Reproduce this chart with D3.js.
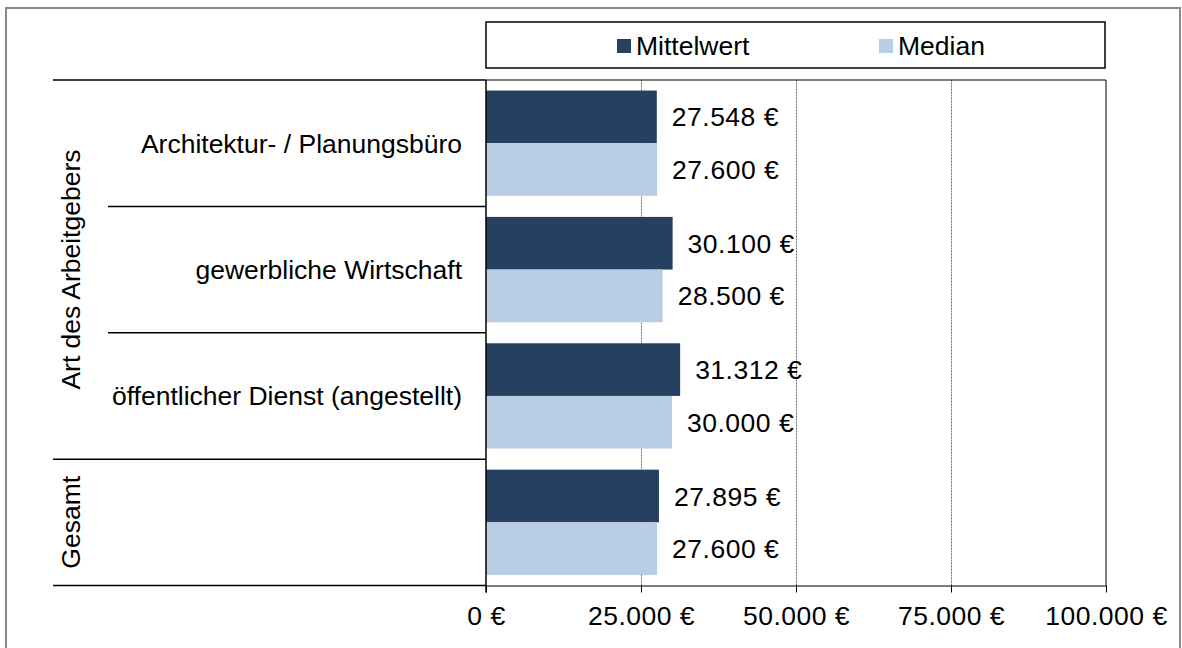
<!DOCTYPE html>
<html lang="de">
<head>
<meta charset="utf-8">
<script src="https://cdn.jsdelivr.net/npm/d3@7/dist/d3.min.js"></script>
<style>
  html, body { margin: 0; padding: 0; background: #fff; }
  svg { display: block; font-family: "Liberation Sans", Arial, sans-serif; }
</style>
</head>
<body>
<svg id="chart" width="1182" height="648"></svg>
<script>
// Jahresgehalt nach Art des Arbeitgebers
const categories = ["Architektur- / Planungsbüro", "gewerbliche Wirtschaft", "öffentlicher Dienst (angestellt)", "Gesamt"];
const categoryLabels = ["Architektur- / Planungsbüro", "gewerbliche Wirtschaft", "öffentlicher Dienst (angestellt)", ""];
const groupLabels = ["Art des Arbeitgebers", "Gesamt"];
const groupOf = [0, 0, 0, 1];
const seriesNames = ["Mittelwert", "Median"];
const mittelwert = [27548, 30100, 31312, 27895];
const median = [27600, 28500, 30000, 27600];
const xTicks = [0, 25000, 50000, 75000, 100000];

const colors = { Mittelwert: "#254061", Median: "#B9CDE5" };
const FONT = 26.5;
const NUM_SPACING = 0.5;

const svg = d3.select("#chart");

const plotLeft = 486, plotRight = 1106, plotTop = 80, plotBottom = 585.5;

const de = d3.formatLocale({ decimal: ",", thousands: ".", grouping: [3], currency: ["", " €"] });
const euro = v => de.format(",.0f")(v) + " €";

const x = d3.scaleLinear().domain([0, 100000]).range([plotLeft, plotRight]);
const y = d3.scaleBand().domain(categories).range([plotTop, plotBottom]);
const ys = d3.scaleBand().domain(seriesNames).range([0, y.bandwidth()]).paddingOuter(0.2).paddingInner(0);

// outer frame
svg.append("rect")
  .attr("x", 6).attr("y", 8).attr("width", 1174).attr("height", 660)
  .attr("fill", "none").attr("stroke", "#8a8a8a").attr("stroke-width", 2);

// dashed grid lines
svg.append("g")
  .attr("transform", `translate(0,${plotBottom})`)
  .call(d3.axisBottom(x).tickValues(xTicks.slice(1, -1)).tickSize(-(plotBottom - plotTop)).tickFormat(""))
  .call(g => g.select(".domain").remove())
  .call(g => g.selectAll(".tick line").attr("stroke", "#6f6f6f").attr("stroke-width", 1).attr("stroke-dasharray", "2,1"));

// plot border: top and right
svg.append("line").attr("x1", plotLeft).attr("x2", plotRight).attr("y1", plotTop).attr("y2", plotTop)
  .attr("stroke", "#000").attr("stroke-width", 1);
svg.append("line").attr("x1", plotRight).attr("x2", plotRight).attr("y1", plotTop).attr("y2", plotBottom)
  .attr("stroke", "#000").attr("stroke-width", 1);

// bars with value labels
const rows = categories.map((c, i) => ({ c, values: [
  { s: "Mittelwert", v: mittelwert[i] },
  { s: "Median", v: median[i] }
]}));

const barG = svg.append("g");
rows.forEach(r => {
  r.values.forEach(d => {
    const y0 = y(r.c) + ys(d.s);
    barG.append("rect")
      .attr("x", x(0)).attr("y", y0)
      .attr("width", x(d.v) - x(0)).attr("height", ys.bandwidth())
      .attr("fill", colors[d.s]);
    barG.append("text")
      .attr("x", x(d.v) + 15).attr("y", y0 + ys.bandwidth() / 2 + FONT * 0.36)
      .attr("font-size", FONT).attr("letter-spacing", NUM_SPACING).attr("fill", "#000")
      .text(euro(d.v));
  });
});

// value axis
const xAxis = svg.append("g")
  .attr("transform", `translate(0,${plotBottom})`)
  .call(d3.axisBottom(x).tickValues(xTicks).tickSize(7).tickSizeOuter(0).tickPadding(14).tickFormat(euro));
xAxis.select(".domain").attr("stroke", "#000").attr("stroke-width", 1.2);
xAxis.selectAll(".tick line").attr("stroke", "#000");
xAxis.selectAll(".tick text").attr("font-size", FONT).attr("fill", "#000")
  .attr("letter-spacing", NUM_SPACING)
  .attr("font-family", "'Liberation Sans', Arial, sans-serif");

// category axis line
svg.append("line").attr("x1", plotLeft).attr("x2", plotLeft).attr("y1", plotTop).attr("y2", plotBottom + 7)
  .attr("stroke", "#000").attr("stroke-width", 1.5);

// category separators: group boundaries reach further left
const boundaries = d3.range(categories.length + 1).map(i => {
  const yy = i < categories.length ? y(categories[i]) : y(categories[i - 1]) + y.bandwidth();
  const isGroupEdge = i === 0 || i === categories.length || groupOf[i] !== groupOf[i - 1];
  return { yy, isGroupEdge };
});
svg.append("g").selectAll("line").data(boundaries).join("line")
  .attr("x1", d => d.isGroupEdge ? 53 : 108).attr("x2", plotLeft)
  .attr("y1", d => d.yy).attr("y2", d => d.yy)
  .attr("stroke", "#000").attr("stroke-width", 1.5);

// category labels
svg.append("g").selectAll("text").data(categories).join("text")
  .attr("x", 462)
  .attr("y", d => y(d) + y.bandwidth() / 2 + FONT * 0.36)
  .attr("text-anchor", "end").attr("font-size", FONT).attr("fill", "#000")
  .text((d, i) => categoryLabels[i]);

// group labels (rotated)
groupLabels.forEach((g, gi) => {
  const members = categories.filter((c, i) => groupOf[i] === gi);
  const y0 = y(members[0]);
  const y1 = y(members[members.length - 1]) + y.bandwidth();
  svg.append("text")
    .attr("transform", `translate(80,${(y0 + y1) / 2}) rotate(-90)`)
    .attr("text-anchor", "middle").attr("font-size", FONT).attr("fill", "#000")
    .text(g);
});

// legend
const legend = svg.append("g");
legend.append("rect")
  .attr("x", plotLeft).attr("y", 22).attr("width", plotRight - plotLeft - 1).attr("height", 46)
  .attr("fill", "#fff").attr("stroke", "#000").attr("stroke-width", 1.5);
const legendX = [617, 879];
seriesNames.forEach((s, i) => {
  legend.append("rect")
    .attr("x", legendX[i]).attr("y", 39).attr("width", 14).attr("height", 14)
    .attr("fill", colors[s]);
  legend.append("text")
    .attr("x", legendX[i] + 19).attr("y", 54.5)
    .attr("font-size", FONT).attr("fill", "#000")
    .text(s);
});
</script>
</body>
</html>
